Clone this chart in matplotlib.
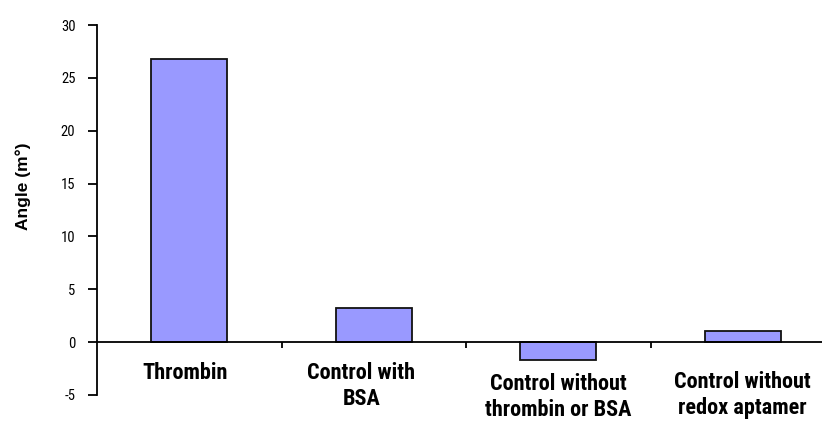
import matplotlib
matplotlib.use("Agg")
import matplotlib.pyplot as plt
import numpy as np

# Data
categories = ["Thrombin", "Control with\nBSA", "Control without\nthrombin or BSA", "Control without\nredox aptamer"]
values = [26.8, 3.2, -1.7, 1.1]
yticks = [-5, 0, 5, 10, 15, 20, 25, 30]
ytick_labels = ["-5", "0", "5", "10", "15", "20", "25", "30"]
ylabel = "Angle (m°)"

narrow = ["Roboto Condensed", "DejaVu Sans"]

fig = plt.figure(figsize=(8.22, 4.21), dpi=100)
fig.patch.set_facecolor("white")
ax = fig.add_axes([97 / 822, 1 - 395 / 421, 1 - 97 / 822, (395 - 25) / 421])

x = np.arange(len(categories))
ax.bar(x, values, width=0.41, color="#9999FF", edgecolor="#111111", linewidth=1.3, zorder=2)

ax.set_xlim(-0.5, -0.5 + (822 - 97) / 184.5)
ax.set_ylim(-5, 30)

# axes styling
for side in ("top", "right"):
    ax.spines[side].set_visible(False)
ax.spines["bottom"].set_position(("data", 0))
ax.spines["bottom"].set_linewidth(1.3)
ax.spines["left"].set_linewidth(1.3)
ax.spines["bottom"].set_zorder(3)

ax.set_yticks(yticks)
ax.set_yticklabels(ytick_labels, family=narrow, fontsize=10.5)
ax.tick_params(axis="y", direction="out", length=6.5, width=1.3, pad=9)

ax.set_xticks([])
ax.set_xticks([0.5, 1.5, 2.5], minor=True)
ax.tick_params(axis="x", which="minor", direction="out", length=4.5, width=1.3, labelbottom=False)

# category labels below the zero line
label_offsets = [(-3, -14), (-9, -14), (0, -22), (0, -20.5)]
for xi, lab, (dx, dy) in zip(x, categories, label_offsets):
    ax.annotate(lab, xy=(xi, 0), xytext=(dx, dy), textcoords="offset points",
                ha="center", va="top", multialignment="center",
                family=narrow, fontweight="bold", fontsize=16, linespacing=1.25)

fig.text(23 / 822, 1 - 186 / 421, ylabel, rotation=90, ha="center", va="center",
         family=["Liberation Sans", "DejaVu Sans"], fontweight="bold", fontsize=12.5)

fig.savefig("out.png", dpi=100, facecolor="white")
